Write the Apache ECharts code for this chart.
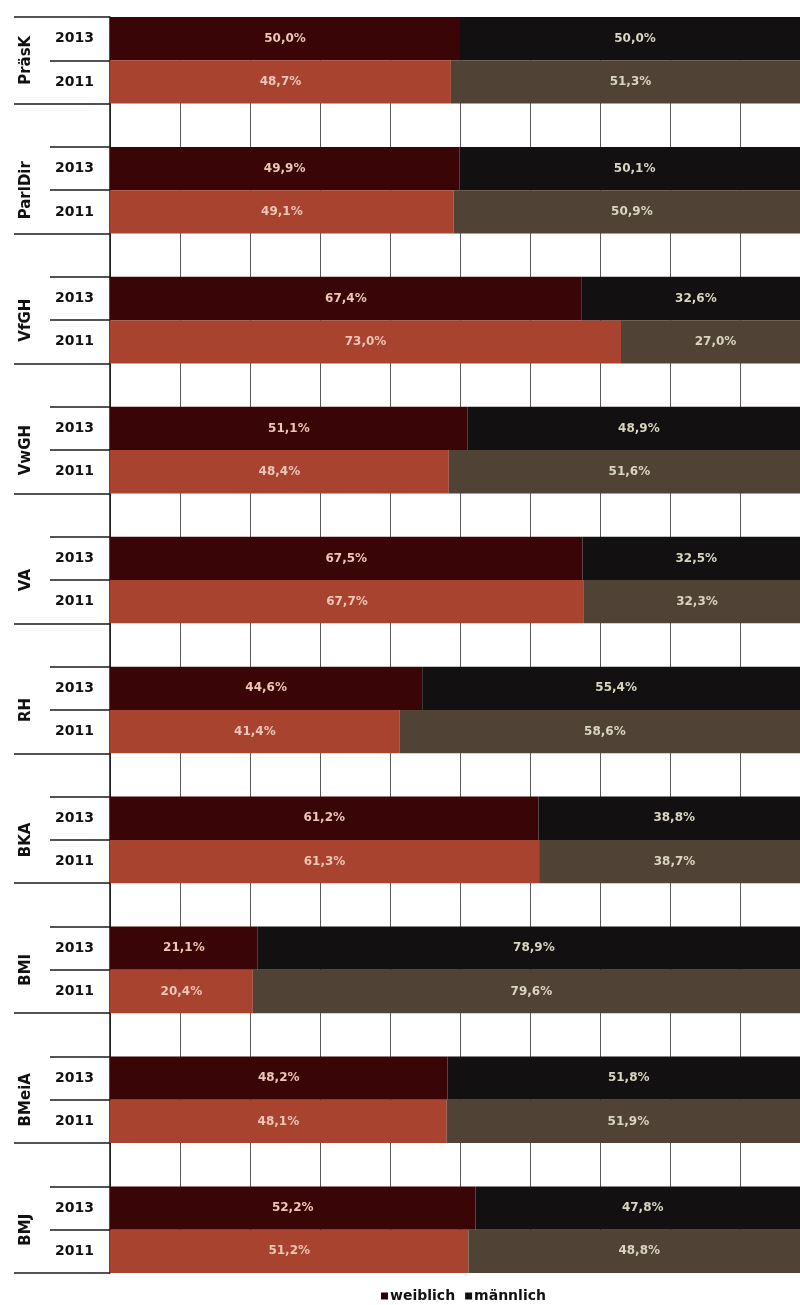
<!DOCTYPE html>
<html>
<head>
<meta charset="utf-8">
<script src="https://cdn.jsdelivr.net/npm/echarts@6/dist/echarts.min.js"></script>
<style>
  html, body { margin: 0; padding: 0; background: #ffffff; overflow: hidden; }
  #chart { width: 800px; height: 1305px; }
</style>
</head>
<body>
<div id="chart"></div>
<script>
// Institutions (groups) and the two survey years shown for each
const groups = ['PräsK', 'ParlDir', 'VfGH', 'VwGH', 'VA', 'RH', 'BKA', 'BMI', 'BMeiA', 'BMJ'];
const years = ['2013', '2011'];

// Shares in percent
const female2013 = [50.0, 49.9, 67.4, 51.1, 67.5, 44.6, 61.2, 21.1, 48.2, 52.2];
const male2013   = [50.0, 50.1, 32.6, 48.9, 32.5, 55.4, 38.8, 78.9, 51.8, 47.8];
const female2011 = [48.7, 49.1, 73.0, 48.4, 67.7, 41.4, 61.3, 20.4, 48.1, 51.2];
const male2011   = [51.3, 50.9, 27.0, 51.6, 32.3, 58.6, 38.7, 79.6, 51.9, 48.8];

const seriesNames = ['weiblich', 'männlich'];

// Fill colours per year and gender
const colors = {
  '2013': { f: '#3a0506', m: '#121010' },
  '2011': { f: '#a8432f', m: '#504234' }
};
const labelColors = { f: '#ecc6b6', m: '#d9d5c2' };

// Rows: 2013, 2011 for each group, with an empty spacer row in between groups
const rows = [];
const femaleRows = [];
const maleRows = [];
groups.forEach((g, i) => {
  const pairs = [
    [years[0], female2013[i], male2013[i]],
    [years[1], female2011[i], male2011[i]]
  ];
  pairs.forEach(([y, f, m]) => {
    rows.push(g + '|' + y);
    femaleRows.push({ value: f, itemStyle: { color: colors[y].f }, label: { color: labelColors.f } });
    maleRows.push({ value: m, itemStyle: { color: colors[y].m }, label: { color: labelColors.m } });
  });
  if (i < groups.length - 1) {
    rows.push('gap|' + i);
    femaleRows.push('-');
    maleRows.push('-');
  }
});

const nRows = rows.length;
// Row boundaries: short separators everywhere, long ones around each group
const allBounds = [];
for (let v = 0; v <= nRows; v++) allBounds.push(v);
const groupBounds = [0];
groups.forEach((g, i) => groupBounds.push(i * 3 + 2));
// Group label sits on the boundary between its 2013 and 2011 rows
const groupCenters = groups.map((g, i) => i * 3 + 1);

const fmt = v => v.toFixed(1).replace('.', ',') + '%';

const chart = echarts.init(document.getElementById('chart'));
chart.setOption({
  animation: false,
  backgroundColor: '#ffffff',
  // plot runs a little past the right edge of the page
  grid: { left: 110, width: 700, top: 17, bottom: 32, containLabel: false, outerBoundsMode: 'none' },
  legend: {
    data: seriesNames,
    left: 381,
    top: 1289,
    icon: 'rect',
    itemWidth: 7,
    itemHeight: 7,
    itemGap: 10,
    padding: 0,
    textStyle: { fontFamily: 'DejaVu Sans', fontWeight: 'bold', fontSize: 14, color: '#111', padding: [0, 0, 0, -3] }
  },
  xAxis: {
    type: 'value',
    min: 0,
    max: 100,
    interval: 10,
    axisLine: { show: true, lineStyle: { color: '#555', width: 1 } },
    axisTick: { show: true, length: 5, lineStyle: { color: '#666', width: 1 } },
    axisLabel: { show: false },
    splitLine: { show: true, lineStyle: { color: '#5a5a5a', width: 1 } }
  },
  yAxis: [
    {
      type: 'category',
      data: rows,
      inverse: true,
      axisLine: { show: true, lineStyle: { color: '#111', width: 1.5 } },
      axisTick: { show: false },
      splitLine: { show: false },
      axisLabel: {
        margin: 16,
        fontFamily: 'DejaVu Sans',
        fontWeight: 'bold',
        fontSize: 14,
        color: '#111',
        formatter: v => (v.startsWith('gap') ? '' : v.split('|')[1])
      }
    },
    {
      type: 'value',
      min: 0,
      max: nRows,
      inverse: true,
      position: 'left',
      axisLine: { show: false },
      splitLine: { show: false },
      axisTick: { show: true, customValues: allBounds, length: 60, lineStyle: { color: '#1a1a1a', width: 1.5 } },
      axisLabel: {
        customValues: groupCenters,
        formatter: v => groups[Math.round((v - 1) / 3)],
        rotate: 90,
        margin: 76,
        fontFamily: 'DejaVu Sans',
        fontWeight: 'bold',
        fontSize: 15,
        color: '#111'
      }
    },
    {
      type: 'value',
      min: 0,
      max: nRows,
      inverse: true,
      position: 'left',
      axisLine: { show: false },
      splitLine: { show: false },
      axisTick: { show: true, customValues: groupBounds, length: 96, lineStyle: { color: '#1a1a1a', width: 1.5 } },
      axisLabel: { show: false }
    }
  ],
  series: [
    {
      name: seriesNames[0],
      type: 'bar',
      stack: 'share',
      yAxisIndex: 0,
      barWidth: '100%',
      itemStyle: { color: '#2a0506' },
      label: {
        show: true,
        position: 'inside',
        fontFamily: 'DejaVu Sans',
        fontWeight: 'bold',
        fontSize: 12,
        formatter: p => fmt(p.value)
      },
      data: femaleRows
    },
    {
      name: seriesNames[1],
      type: 'bar',
      stack: 'share',
      yAxisIndex: 0,
      barWidth: '100%',
      itemStyle: { color: '#121010' },
      label: {
        show: true,
        position: 'inside',
        fontFamily: 'DejaVu Sans',
        fontWeight: 'bold',
        fontSize: 12,
        formatter: p => fmt(p.value)
      },
      data: maleRows
    }
  ]
});
</script>
</body>
</html>
